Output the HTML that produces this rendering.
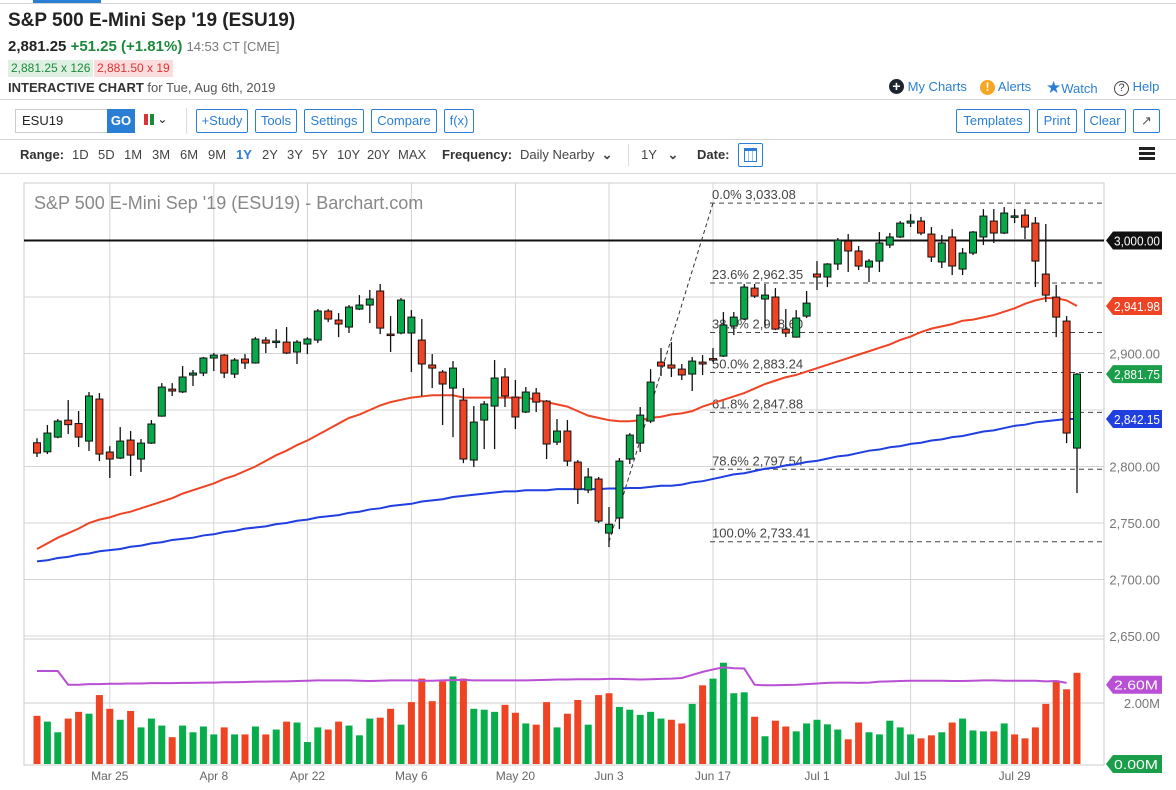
<!DOCTYPE html>
<html><head><meta charset="utf-8">
<style>
*{box-sizing:border-box;margin:0;padding:0}
body{width:1176px;height:790px;background:#fff;font-family:"Liberation Sans",sans-serif;color:#222;position:relative;overflow:hidden}
.abs{position:absolute;white-space:nowrap}
.btn{position:absolute;top:109px;height:24px;border:1px solid #2a7fd4;border-radius:2px;color:#2a7fd4;font-size:13px;line-height:22px;text-align:center}
.rng{position:absolute;top:147px;font-size:13px;color:#444}
.hl{position:absolute;left:0;width:1176px;height:1px;background:#d6d6d6}
</style></head><body>
<div class="abs" style="left:33px;top:0;width:68px;height:3px;background:#2a7fd4"></div>
<div class="hl" style="top:3px"></div>
<div class="abs" style="left:8px;top:10px;font-size:19px;font-weight:bold">S&amp;P 500 E-Mini Sep '19 (ESU19)</div>
<div class="abs" style="left:8px;top:38px;font-size:15px"><b>2,881.25</b> <b style="color:#1a8a3a">+51.25 (+1.81%)</b> <span style="color:#777;font-size:13px">14:53 CT [CME]</span></div>
<div class="abs" style="left:8px;top:60px;height:17px;padding:0 3px;background:#dff0e3;color:#1a8a3a;font-size:12px;line-height:17px">2,881.25 x 126</div>
<div class="abs" style="left:94px;top:60px;height:17px;padding:0 3px;background:#fadcdc;color:#d33;font-size:12px;line-height:17px">2,881.50 x 19</div>
<div class="abs" style="left:8px;top:80px;font-size:13px;color:#555"><b style="color:#333">INTERACTIVE CHART</b> for Tue, Aug 6th, 2019</div>
<div class="abs" style="left:889px;top:79px;font-size:13px;color:#2a7fd4"><span style="display:inline-block;width:15px;height:15px;border-radius:50%;background:#1c2530;color:#fff;text-align:center;line-height:15px;font-weight:bold;font-size:14px">+</span> My Charts</div>
<div class="abs" style="left:980px;top:79px;font-size:13px;color:#2a7fd4"><span style="display:inline-block;width:15px;height:15px;border-radius:50%;background:#f5a623;color:#fff;text-align:center;line-height:15px;font-weight:bold;font-size:12px">!</span> Alerts</div>
<div class="abs" style="left:1046px;top:78px;font-size:13px;color:#2a7fd4"><span style="font-size:17px">★</span>Watch</div>
<div class="abs" style="left:1114px;top:79px;font-size:13px;color:#2a7fd4"><span style="display:inline-block;width:15px;height:15px;border-radius:50%;border:1.5px solid #444;color:#444;text-align:center;line-height:12px;font-size:11px">?</span> Help</div>
<div class="hl" style="top:99px"></div>
<div class="abs" style="left:15px;top:109px;width:93px;height:24px;border:1px solid #ccc;font-size:13px;line-height:22px;padding-left:6px">ESU19</div>
<div class="abs" style="left:107px;top:109px;width:28px;height:24px;background:#2a7fd4;color:#fff;font-weight:bold;font-size:13px;line-height:24px;text-align:center">GO</div>
<div class="abs" style="left:144px;top:112px;font-size:12px"><span style="display:inline-block;width:4px;height:11px;background:#d33;vertical-align:middle"></span><span style="display:inline-block;width:4px;height:11px;background:#1a8a3a;margin-left:2px;vertical-align:middle"></span> ⌄</div>
<div class="abs" style="left:186px;top:108px;width:1px;height:26px;background:#ddd"></div>
<div class="btn" style="left:196px;width:52px">+Study</div>
<div class="btn" style="left:255px;width:42px">Tools</div>
<div class="btn" style="left:304px;width:60px">Settings</div>
<div class="btn" style="left:371px;width:66px">Compare</div>
<div class="btn" style="left:444px;width:30px">f(x)</div>
<div class="btn" style="left:956px;width:74px">Templates</div>
<div class="btn" style="left:1037px;width:40px">Print</div>
<div class="btn" style="left:1084px;width:42px">Clear</div>
<div class="btn" style="left:1133px;width:27px;color:#555">↗</div>
<div class="hl" style="top:139px"></div>
<div class="rng" style="left:20px;font-weight:bold;color:#333">Range:</div>
<div class="rng" style="left:72px">1D</div>
<div class="rng" style="left:98px">5D</div>
<div class="rng" style="left:124px">1M</div>
<div class="rng" style="left:152px">3M</div>
<div class="rng" style="left:180px">6M</div>
<div class="rng" style="left:208px">9M</div>
<div class="rng" style="left:236px;color:#2a7fd4;font-weight:bold">1Y</div>
<div class="rng" style="left:262px">2Y</div>
<div class="rng" style="left:287px">3Y</div>
<div class="rng" style="left:312px">5Y</div>
<div class="rng" style="left:337px">10Y</div>
<div class="rng" style="left:367px">20Y</div>
<div class="rng" style="left:398px">MAX</div>
<div class="rng" style="left:442px;font-weight:bold;color:#333">Frequency:</div>
<div class="rng" style="left:520px">Daily Nearby &nbsp;<b>⌄</b></div>
<div class="abs" style="left:628px;top:144px;width:1px;height:22px;background:#ddd"></div>
<div class="rng" style="left:641px">1Y &nbsp;&nbsp;<b>⌄</b></div>
<div class="rng" style="left:697px;font-weight:bold;color:#333">Date:</div>
<div class="abs" style="left:738px;top:143px;width:25px;height:24px;border:1px solid #2a7fd4;border-radius:2px;padding:4px 5px"><div style="width:13px;height:14px;border:1px solid #2a7fd4;border-top:3px solid #2a7fd4;background:repeating-linear-gradient(90deg,#fff 0 3px,#9cc3ea 3px 4px)"></div></div>
<div class="abs" style="left:1139px;top:147px;width:16px;height:13px;border-top:3px solid #222;border-bottom:3px solid #222"><div style="margin-top:2px;height:3px;background:#222"></div></div>
<div class="hl" style="top:173px"></div>

<svg id="chart" width="1176" height="790" style="position:absolute;left:0;top:0" xmlns="http://www.w3.org/2000/svg" font-family="Liberation Sans, sans-serif"></svg>
<script>
const opens=[2821,2813,2826,2841,2838,2822.5,2859.7,2812.8,2807.5,2823.4,2806.6,2820.7,2844.6,2868.5,2866,2880.9,2882.7,2896,2898.6,2881.8,2895.1,2891.6,2911.9,2910.1,2910.1,2901.3,2908.4,2911.9,2937.6,2929.6,2923.4,2939.3,2942.9,2955.3,2917.2,2918.1,2918.1,2911.9,2889.8,2883.6,2869.4,2858.8,2805.7,2841.1,2853.5,2879.2,2861.4,2848.2,2865,2857.9,2821.6,2831.4,2803.9,2779.2,2788.9,2741.1,2754.4,2806.6,2820.7,2840.2,2892.4,2889.8,2886.2,2881.8,2892.4,2895.5,2897.7,2924.3,2930.5,2957.9,2948.2,2950,2921.6,2914.5,2933.1,2970.3,2967.7,2979.2,2999.5,2990.7,2976.5,2981.8,2996,3003.1,3015.4,3017.2,3005.7,2981,3003.1,2974.7,2988.9,3003.1,3017.2,3006.6,3021.6,3022.5,3015.4,2970.3,2949.9,2928.7,2816.3];
const highs=[2825,2836.7,2842,2858.8,2849.1,2865.9,2865,2818,2834.9,2831.4,2824.3,2841.1,2873.8,2873.8,2888.9,2885.4,2896.9,2900.4,2899.5,2896,2899.5,2914.5,2914.5,2921.6,2923.4,2911.9,2914.5,2939.3,2939.3,2935.8,2942.9,2951.7,2956.2,2961.5,2933.1,2949.1,2938.4,2930.5,2899.5,2885.4,2893.3,2869.4,2853.5,2857.9,2894.2,2887.1,2876.5,2870.3,2869.4,2858.8,2842,2841.1,2805.7,2798.6,2790.7,2764.1,2807.5,2829.6,2852.6,2886.2,2904.8,2910.1,2890.7,2896.9,2898.6,2904.8,2936.7,2936.7,2961.5,2961.5,2961.5,2957.9,2939.3,2938.4,2955.3,2981.8,2980,3002.2,3005.7,2995.1,2983.6,3007.5,3006.6,3017.2,3023.4,3020.8,3011.9,3004.8,3010.1,2993.3,3008.4,3027.8,3027.8,3029.6,3027.8,3027.8,3020.8,3014.6,2960.6,2933.1,2882.7];
const lows=[2808.4,2811,2825,2828.7,2817.2,2813.7,2804.8,2789.8,2806.6,2791.6,2795.1,2820,2844,2862.4,2865,2871.2,2880,2884.5,2878.3,2878.3,2886.3,2891,2900.4,2904.8,2899.5,2890.7,2899.5,2909.2,2927.8,2914.5,2918.1,2938.4,2926.9,2917.2,2901.3,2917,2883.6,2862.4,2869.4,2836.7,2826,2803,2799.5,2815.4,2815.4,2852.6,2833.1,2847.3,2848.2,2806.6,2819,2800.4,2766.8,2776.5,2749.9,2728.7,2744.6,2802.2,2812.8,2838.4,2880,2879.2,2876.5,2866.8,2880.9,2892.4,2896.9,2916.3,2929.6,2949.1,2923.4,2920.7,2914.5,2914,2931.4,2956.2,2958.8,2973.9,2972.1,2973.9,2963.2,2972.1,2993.3,3002.2,3011.9,3004.8,2981,2975.6,2969.4,2969.4,2987.1,2996,2997.8,3005.7,3015.4,3001.3,2958.8,2945.5,2914.5,2820.7,2776.5];
const closes=[2811.9,2829.6,2840.2,2837,2826,2862.4,2811,2806.6,2822.5,2810.1,2820.7,2837.6,2870.3,2866.8,2879.2,2882.7,2896,2898.6,2882.7,2894.2,2891.6,2912.8,2909.2,2911,2900.4,2910.1,2912.8,2937.6,2930.5,2926.1,2941.1,2942.9,2948.2,2922.5,2916.3,2947.3,2932.2,2890.7,2887.1,2873,2887.1,2806.6,2839.3,2855.3,2878.3,2862.4,2843.8,2865.9,2857,2819.9,2831.4,2804.8,2780,2790.7,2751.7,2748.9,2804.8,2827.8,2845.5,2874.7,2888.9,2887.1,2881,2893.3,2890.7,2895.1,2925.2,2932.2,2958.8,2950.8,2951.7,2921.6,2918.1,2931.4,2944.6,2967.7,2979.2,3000.4,2990.7,2977.4,2981.8,2997.8,3003.1,3015.4,3017.2,3006.6,2985.4,2997.8,2977.4,2988.9,3007.5,3021.6,3006.6,3024.3,3021.8,3011.9,2981.8,2951.7,2932.2,2829.6,2881.75];
const ma50=[2727,2732,2737,2741,2745,2750,2753,2755,2758,2760,2763,2766,2769,2772,2776,2779,2782,2785,2789,2792,2796,2800,2805,2810,2814,2819,2823,2828,2833,2838,2843,2846,2850,2854,2857,2859,2861,2862,2863,2863,2863,2861,2861,2861,2861,2861,2861,2861,2859,2857,2855,2853,2849,2845,2843,2841,2840,2840,2841,2843,2844,2846,2847,2849,2853,2856,2859,2862,2865,2869,2873,2876,2879,2881,2884,2887,2890,2893,2896,2899,2902,2905,2908,2912,2915,2919,2922,2924,2926,2929,2930,2932,2934,2937,2940,2944,2947,2949,2949,2947,2942];
const ma200=[2716,2717,2719,2720,2722,2723,2725,2726,2727,2729,2730,2732,2733,2735,2736,2737,2739,2740,2742,2743,2745,2746,2747,2749,2750,2752,2753,2755,2756,2757,2759,2760,2762,2763,2765,2766,2767,2769,2770,2771,2773,2774,2775,2776,2777,2778,2778,2779,2779,2779,2780,2780,2780,2780,2780,2780.5,2780.5,2781,2781,2782,2783,2783,2784,2786,2787,2789,2791,2793,2794,2796,2798,2799,2801,2802,2804,2805,2807,2809,2810,2812,2814,2815,2817,2818,2820,2821,2823,2824,2826,2827,2829,2831,2832,2834,2836,2837,2839,2840,2841,2842,2842];
const volumes=[1.58,1.39,1.04,1.49,1.71,1.65,2.26,1.81,1.45,1.74,1.20,1.49,1.26,0.88,1.26,1.04,1.23,0.97,1.20,0.97,0.97,1.23,0.97,1.13,1.39,1.36,0.72,1.20,1.13,1.39,1.26,0.94,1.49,1.52,1.81,1.29,2.03,2.80,2.06,2.71,2.87,2.80,1.81,1.78,1.71,1.94,1.68,1.33,1.29,2.03,1.20,1.65,2.10,1.29,2.26,2.32,1.87,1.78,1.61,1.71,1.49,1.45,1.33,1.97,2.58,2.80,3.32,2.32,2.35,1.55,0.91,1.42,1.23,1.07,1.33,1.45,1.30,1.13,0.81,1.36,1.04,0.97,1.42,1.20,0.97,0.84,0.94,1.04,1.36,1.49,1.10,1.07,1.07,1.33,0.97,0.84,1.20,1.97,2.74,2.45,2.99];
const volColors="rggrrgrrgrgggrggggrgrgrgrgggrrgggrrgrrrrgrgggrrgrrgrrgrrgggggrrgrggggrgrrgggggrrgggggrrgrgggrgrrrrrr";
const volAvg=[3.05,3.05,3.05,2.6,2.6,2.62,2.62,2.63,2.63,2.64,2.64,2.65,2.65,2.65,2.66,2.66,2.67,2.67,2.68,2.68,2.69,2.7,2.7,2.71,2.71,2.72,2.73,2.74,2.74,2.74,2.74,2.73,2.72,2.73,2.74,2.74,2.74,2.73,2.73,2.74,2.75,2.76,2.74,2.74,2.74,2.74,2.74,2.74,2.75,2.76,2.77,2.77,2.78,2.78,2.78,2.79,2.79,2.78,2.77,2.78,2.79,2.80,2.82,2.92,3.02,3.10,3.17,3.14,3.13,2.60,2.58,2.58,2.59,2.60,2.62,2.64,2.66,2.67,2.67,2.66,2.67,2.70,2.71,2.72,2.73,2.73,2.73,2.73,2.72,2.72,2.73,2.74,2.74,2.73,2.73,2.73,2.73,2.71,2.72,2.66];
const priceTicks=[2650,2700,2750,2800,2850,2900,2950];
const fibLevels=[0,23.6,38.2,50,61.8,78.6,100];
const fibValues=[3033.08,2962.35,2918.60,2883.24,2847.88,2797.54,2733.41];
const dateLabels=["Mar 25","Apr 8","Apr 22","May 6","May 20","Jun 3","Jun 17","Jul 1","Jul 15","Jul 29"];
const dateIdx=[7,17,26,36,46,55,65,75,84,94];

const svg=document.getElementById('chart');
const NS='http://www.w3.org/2000/svg';
const X0=37,DX=10.4,PL=24,PR=1104,PT=183,PB=639,VB=765;
const xs=i=>X0+i*DX;
const ys=p=>240.5+(3000-p)*1.13;
const yv=v=>764-v*30.5;
function el(t,a,parent){const e=document.createElementNS(NS,t);for(const k in a)e.setAttribute(k,a[k]);(parent||svg).appendChild(e);return e;}
function fmt(v){return v.toLocaleString('en-US',{minimumFractionDigits:2,maximumFractionDigits:2});}

const frame=el('rect',{x:PL,y:PT,width:PR-PL,height:VB-PT,fill:'none',stroke:'#ccc'});


el('line',{x1:PL,x2:PR,y1:PB,y2:PB,stroke:'#ccc'});
el('line',{x1:PL,x2:PR,y1:yv(2),y2:yv(2),stroke:'#ccc'});
priceTicks.forEach(p=>{
  const g=el('line',{x1:PL,x2:PR,y1:ys(p),y2:ys(p),stroke:'#d4d4d4'});
  
  
  if(p!==2950&&p!==2850){
    const t=el('text',{x:1160,y:ys(p)+5,'text-anchor':'end','font-size':13,fill:'#777'});
    t.textContent=fmt(p);
    
    
  }
});
dateIdx.forEach((di,k)=>{
  const g=el('line',{x1:xs(di),x2:xs(di),y1:PT,y2:VB,stroke:'#d4d4d4'});
  
  
  const t=el('text',{x:xs(di),y:780,'text-anchor':'middle','font-size':12,fill:'#666'});
  t.textContent=dateLabels[k];
  
  
});
const title=el('text',{x:34,y:209,'font-size':18,fill:'#888'});
title.textContent="S&P 500 E-Mini Sep '19 (ESU19) - Barchart.com";



const l3k=el('line',{x1:PL,x2:PR,y1:ys(3000),y2:ys(3000),stroke:'#111','stroke-width':2});



const lowIdx=55,highIdx=65;
const fl=el('line',{x1:xs(lowIdx),y1:ys(fibValues[6]),x2:xs(highIdx),y2:ys(fibValues[0]),stroke:'#333','stroke-dasharray':'4,3'});


fibLevels.forEach((lv,k)=>{
  const y=ys(fibValues[k]);
  const l=el('line',{x1:xs(highIdx)-3,x2:PR,y1:y,y2:y,stroke:'#444','stroke-dasharray':'5,4'});
  
  
  const t=el('text',{x:xs(highIdx)-1,y:y-4,'font-size':13,fill:'#444'});
  t.textContent=lv.toFixed(1)+'% '+fmt(fibValues[k]);
  
  
});

function line(arr,color,name){
  const p=el('polyline',{points:arr.map((v,i)=>xs(i)+','+ys(v)).join(' '),fill:'none',stroke:color,'stroke-width':2});
  
  
}
line(ma200,'#1f3fe0','moving-average-200');
line(ma50,'#ef4424','moving-average-50');

opens.forEach((o,i)=>{
  const c=closes[i],x=xs(i),up=c>=o;
  const w=el('line',{x1:x,x2:x,y1:ys(highs[i]),y2:ys(lows[i]),stroke:'#111','stroke-width':1.3});
  
  
  const top=ys(Math.max(o,c)),h=Math.max(1.5,Math.abs(ys(o)-ys(c)));
  const b=el('rect',{x:x-3.5,y:top,width:7,height:h,fill:up?'#08a84a':'#ef4424',stroke:'#111','stroke-width':1});
  
  
});

volumes.forEach((v,i)=>{
  const r=el('rect',{x:xs(i)-3.5,y:yv(v),width:7,height:764-yv(v),fill:volColors[i]==='g'?'#08ad4b':'#ef4424'});
  
  
});
const va=el('polyline',{points:volAvg.map((v,i)=>xs(i)+','+yv(v)).join(' '),fill:'none',stroke:'#b94fd4','stroke-width':2});


const v2=el('text',{x:1160,y:yv(2)+5,'text-anchor':'end','font-size':13,fill:'#777'});
v2.textContent='2.00M';



function tag(y,txt,color,name,tw){
  const g=el('g',{});
  
  
  el('path',{d:`M1106 ${y} L1113 ${y-9} L1162 ${y-9} L1162 ${y+9} L1113 ${y+9} Z`,fill:color},g);
  const t=el('text',{x:1114,y:y+5,'font-size':13,fill:'#fff',textLength:tw,lengthAdjust:'spacingAndGlyphs'},g);
  t.textContent=txt;
}
tag(ys(3000),'3,000.00','#111','tag-3000',46);
tag(ys(ma50[100]),'2,941.98','#ef4424','tag-ma50',46);
tag(ys(closes[100]),'2,881.75','#1a9e4a','tag-last-price',46);
tag(ys(ma200[100]),'2,842.15','#1f3fe0','tag-ma200',46);
tag(yv(2.60),'2.60M','#b94fd4','tag-volume-average',44);
tag(764,'0.00M','#1a9e4a','tag-volume-zero',44);
</script>
</body></html>
